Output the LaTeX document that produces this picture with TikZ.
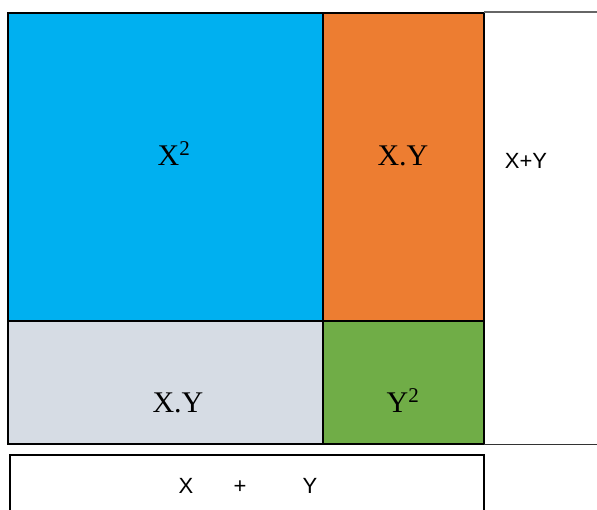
\documentclass[tikz,border=0pt]{standalone}
\usepackage{fontspec}
\setmainfont{Liberation Serif}
\newfontfamily\arialf{Liberation Sans}
\definecolor{cblue}{HTML}{00B0F0}
\definecolor{corange}{HTML}{ED7D31}
\definecolor{cgray}{HTML}{D6DCE4}
\definecolor{cgreen}{HTML}{70AD47}
\begin{document}
\begin{tikzpicture}[x=1pt,y=-1pt,
  cell/.style={draw=black,line width=2pt},
  serif/.style={font=\fontsize{30}{34}\selectfont,anchor=base,inner sep=0pt},
  sans/.style={font=\arialf\fontsize{22}{25}\selectfont,anchor=base,inner sep=0pt}]
\useasboundingbox (0,0) rectangle (597,509);
% cells
\filldraw[cell,fill=cblue] (8,13) rectangle (323,321);
\filldraw[cell,fill=corange] (323,13) rectangle (484,321);
\filldraw[cell,fill=cgray] (8,321) rectangle (323,444);
\filldraw[cell,fill=cgreen] (323,321) rectangle (484,444);
% right side box
\coordinate (rt0) at (484,12);
\coordinate (rt1) at (597,12);
\coordinate (rb0) at (484,444.5);
\coordinate (rb1) at (597,444.5);
\draw[line width=1.6pt,draw=gray!80!black] (rt0) -- (rt1);
\draw[line width=1.3pt,draw=black!80] (rb0) -- (rb1);
% bottom box
\draw[line width=1.6pt] (10,515) -- (10,455) -- (484,455) -- (484,515);
% labels
\node[serif] (xsq) at (174,165) {X\textsuperscript{2}};
\node[serif] (xy1) at (403,165) {X.Y};
\node[serif] (xy2) at (178,412) {X.Y};
\node[serif] (ysq) at (403,412) {Y\textsuperscript{2}};
\node[sans] (xpy) at (526,168) {X+Y};
\node[sans] (bx) at (186,493) {X};
\node[sans] (bp) at (240,493) {+};
\node[sans] (by) at (310,493) {Y};
\end{tikzpicture}
\end{document}
